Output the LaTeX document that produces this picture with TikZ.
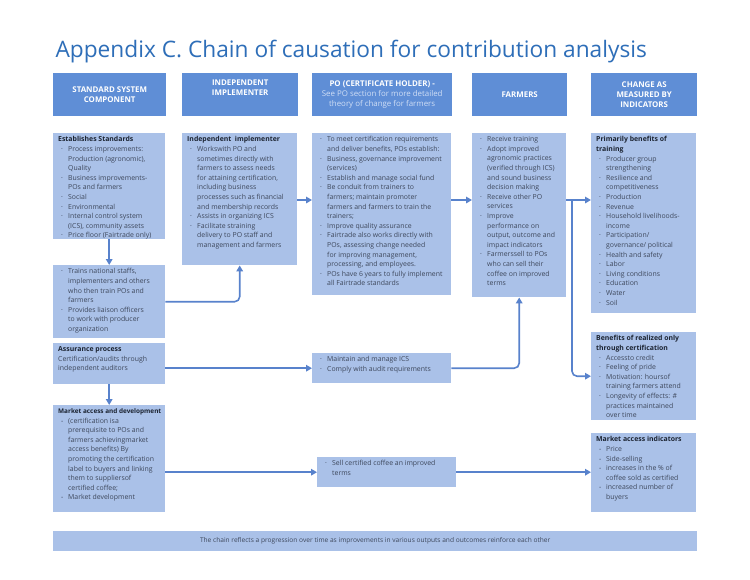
\documentclass[tikz,border=0pt]{standalone}
\usepackage{fontspec}
\setmainfont{Open Sans}
\usetikzlibrary{positioning,arrows.meta}

\definecolor{headblue}{RGB}{95,142,214}
\definecolor{cellblue}{RGB}{170,193,232}
\definecolor{titleblue}{RGB}{46,110,184}
\definecolor{linkblue}{RGB}{88,130,204}
\definecolor{celltext}{RGB}{62,72,92}
\definecolor{celldark}{RGB}{28,36,50}
\definecolor{subhead}{RGB}{208,222,245}

% bullet, dash and heading lines inside a cell
\newcommand\bul{\par\noindent\hangindent=10pt\hangafter=1\makebox[10pt][l]{\hspace{3pt}·}}
\newcommand\dsh{\par\noindent\hangindent=10pt\hangafter=1\makebox[10pt][l]{\hspace{3pt}-}}
\newcommand\hd[1]{{\color{celldark}\bfseries #1}\par}
\newcommand\sub[1]{{\mdseries\color{subhead}#1}}
% cell body: outer width, outer height, text
\newcommand\cell[3]{\hskip5pt\parbox[c][\dimexpr#2pt-7pt\relax][t]{\dimexpr#1pt-6pt\relax}{\raggedright\let\\\newline#3}\hskip1pt}

\begin{document}
\begin{tikzpicture}[x=1pt, y=-1pt,
  head/.style={fill=headblue, text=white, anchor=north west, align=center, inner sep=0pt,
    font=\fontsize{7.9}{10}\selectfont\bfseries},
  cell/.style={fill=cellblue, text=celltext, anchor=north west, inner xsep=0pt, inner ysep=3.5pt,
    font=\fontsize{6.9}{9.6}\selectfont},
  link/.style={draw=linkblue, line width=1.6pt, rounded corners=5pt,
    -{Triangle[length=6pt, width=6.5pt]}}]
\fill[white] (0,0) rectangle (750,579);
\useasboundingbox (0,0) rectangle (750,579);

\node[anchor=west, text=titleblue, font=\fontsize{22.7}{26}\selectfont] (title) at (52,52)
  {Appendix C. Chain of causation for contribution analysis};

% column heads
\node[head, minimum width=113, minimum height=43] (hstd) at (53,73) {STANDARD SYSTEM\\COMPONENT};
\node[head, minimum width=116, minimum height=43] (himpl) at (182,73) {INDEPENDENT\\IMPLEMENTER\\[4pt]};
\node[head, minimum width=140, minimum height=43] (hpo) at (312,73)
  {PO (CERTIFICATE HOLDER) -\\\sub{See PO section for more detailed}\\\sub{theory of change for farmers}};
\node[head, minimum width=95, minimum height=43] (hfarm) at (472,73) {FARMERS};
\node[head, minimum width=106, minimum height=43] (hind) at (591,73) {CHANGE AS\\MEASURED BY\\INDICATORS};

% standard system component
\node[cell] (std) at (53,133) {\cell{113}{106}{\hd{Establishes Standards}
  \bul Process improvements:\\Production (agronomic),\\Quality
  \bul Business improvements-\\POs and farmers
  \bul Social
  \bul Environmental
  \bul Internal control system\\(ICS), community assets
  \bul Price floor (Fairtrade only)}};
\node[cell] (trains) at (53,265) {\cell{113}{73}{
  \bul Trains national staffs,\\implementers and others\\who then train POs and\\farmers
  \bul Provides liaison officers\\to work with producer\\organization}};
\node[cell] (assur) at (53,343) {\cell{113}{41}{\hd{Assurance process}
  Certification/audits through\\independent auditors}};
\node[cell] (mkt) at (53,405) {\cell{113}{107}{\hd{\mbox{\fontsize{6.4}{9.6}\selectfont Market access and development}}
  \dsh (certification isa\\prerequisite to POs and\\farmers achievingmarket\\access benefits) By\\promoting the certification\\label to buyers and linking\\them to suppliersof\\certified coffee;
  \dsh Market development}};

% independent implementer
\node[cell] (impl) at (182,133) {\cell{116}{132}{\hd{Independent\ \ implementer}
  \bul Workswith PO and\\sometimes directly with\\farmers to assess needs\\for attaining certification,\\including business\\processes such as financial\\and membership records
  \bul Assists in organizing ICS
  \bul Facilitate straining\\delivery to PO staff and\\management and farmers}};

% PO
\node[cell] (po) at (312,133) {\cell{140}{162}{
  \bul To meet certification requirements\\and deliver benefits, POs establish:
  \bul Business, governance improvement\\(services)
  \bul Establish and manage social fund
  \bul Be conduit from trainers to\\farmers; maintain promoter\\farmers and farmers to train the\\trainers;
  \bul Improve quality assurance
  \bul Fairtrade also works directly with\\POs, assessing change needed\\for improving management,\\processing, and employees.
  \bul POs have 6 years to fully implement\\all Fairtrade standards}};
\node[cell] (mics) at (312,353) {\cell{140}{30}{
  \bul Maintain and manage ICS
  \bul Comply with audit requirements}};
\node[cell] (sell) at (317,457) {\cell{140}{30}{
  \bul Sell certified coffee an improved\\terms}};

% farmers
\node[cell] (farm) at (472,133) {\cell{95}{164}{
  \bul Receive training
  \bul Adopt improved\\agronomic practices\\(verified through ICS)\\and sound business\\decision making
  \bul Receive other PO\\services
  \bul Improve\\performance on\\output, outcome and\\impact indicators
  \bul Farmerssell to POs\\who can sell their\\coffee on improved\\terms}};

% indicators
\node[cell] (ind1) at (591,133) {\cell{106}{180}{\hd{Primarily benefits of\\training}
  \bul Producer group\\strengthening
  \bul Resilience and\\competitiveness
  \bul Production
  \bul Revenue
  \bul Household livelihoods-\\income
  \bul Participation/\\governance/ political
  \bul Health and safety
  \bul Labor
  \bul Living conditions
  \bul Education
  \bul Water
  \bul Soil}};
\node[cell] (ind2) at (591,332) {\cell{106}{88}{\hd{Benefits of realized only\\through certification}
  \bul Accessto credit
  \bul Feeling of pride
  \bul Motivation: hoursof\\training farmers attend
  \bul Longevity of effects: \#\\practices maintained\\over time}};
\node[cell] (ind3) at (591,433) {\cell{106}{79}{\hd{Market access indicators}
  \dsh Price
  \dsh Side-selling
  \dsh increases in the \% of\\coffee sold as certified
  \dsh increased number of\\buyers}};

\node[fill=cellblue, text=celltext, anchor=north west, minimum width=644, minimum height=20, inner sep=0pt,
  font=\fontsize{6.6}{8}\selectfont] (note) at (53,531)
  {The chain reflects a progression over time as improvements in various outputs and outcomes reinforce each other};

% connectors
\coordinate (row1) at (0,200);
\coordinate (split) at (572,200);
\draw[link] (std) -- (trains);
\draw[link] (assur) -- (mkt);
\draw[link] (trains.east) -| (impl.south);
\draw[link] (impl.east |- row1) -- (po.west |- row1);
\draw[link] (po.east |- row1) -- (farm.west |- row1);
\draw[link] (farm.east |- row1) -- (ind1.west |- row1);
\draw[link] (split) |- (ind2.west);
\draw[link] (assur.east |- mics.west) -- (mics.west);
\draw[link] (mics.east) -| (farm.south);
\draw[link] (mkt.east |- sell.west) -- (sell.west);
\draw[link] (sell.east) -- (ind3.west |- sell.east);
\end{tikzpicture}
\end{document}
